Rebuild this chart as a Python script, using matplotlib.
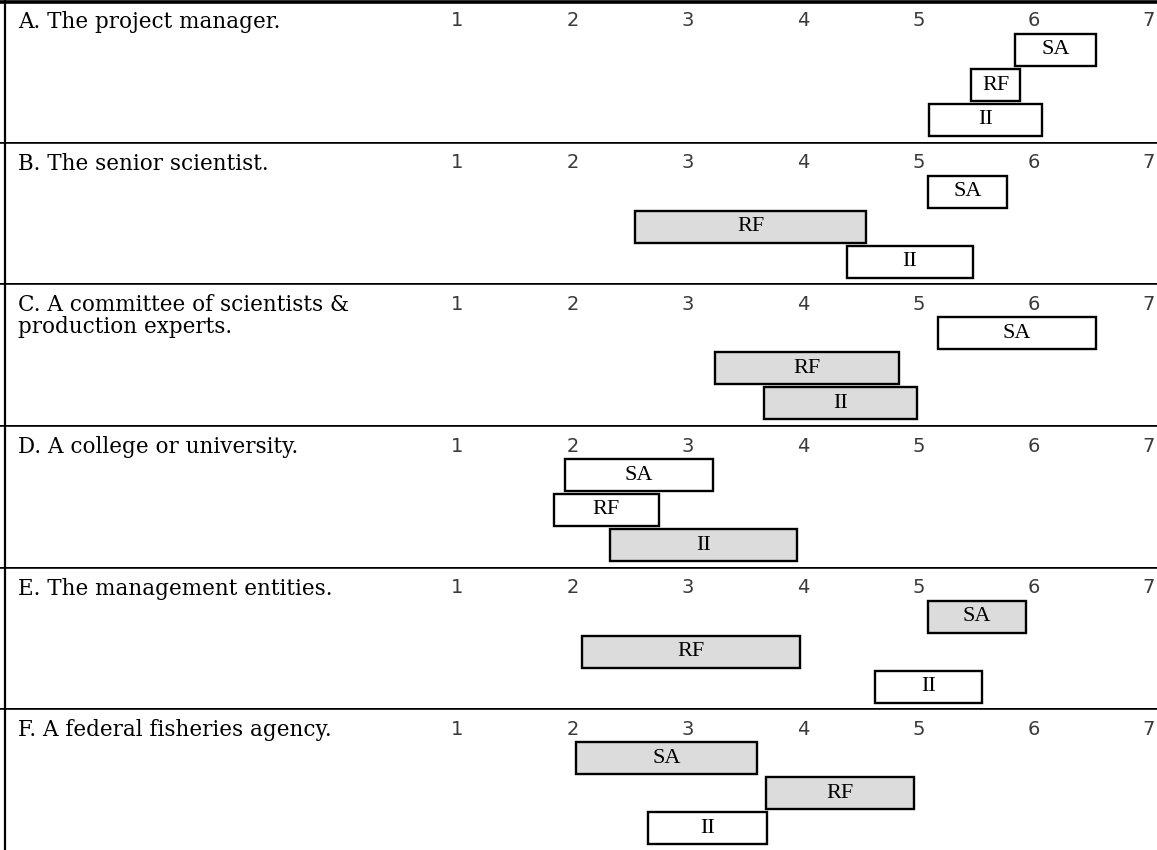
import matplotlib.pyplot as plt

# panel titles, top to bottom
PANELS = [
    "A. The project manager.",
    "B. The senior scientist.",
    "C. A committee of scientists &\nproduction experts.",
    "D. A college or university.",
    "E. The management entities.",
    "F. A federal fisheries agency.",
]
SCALE = [1, 2, 3, 4, 5, 6, 7]
ROWS = ["SA", "RF", "II"]

# left / right end of each box on the 1-7 scale (SA, RF, II per panel)
LEFT = [
    [5.84, 5.46, 5.09],
    [5.08, 2.54, 4.38],
    [5.17, 3.24, 3.66],
    [1.94, 1.84, 2.33],
    [5.08, 2.08, 4.62],
    [2.03, 3.68, 2.66],
]
RIGHT = [
    [6.54, 5.88, 6.07],
    [5.77, 4.55, 5.47],
    [6.54, 4.83, 4.99],
    [3.22, 2.75, 3.95],
    [5.93, 3.97, 5.55],
    [3.60, 4.96, 3.69],
]
# shaded (stippled) boxes
SHADED = [
    [False, False, False],
    [False, True, False],
    [False, True, True],
    [False, False, True],
    [True, True, False],
    [True, True, False],
]

W, H = 1157, 850
X1_PX, X7_PX = 457, 1149
UNIT = (X7_PX - X1_PX) / 6
XMIN = 1 - X1_PX / UNIT
XMAX = 7 + (W - X7_PX) / UNIT
PANEL_H = H / 6
ROW_Y = [50, 85, 120]
BOX_H = 32


def draw_panel(ax, i):
    ax.set_xlim(XMIN, XMAX)
    ax.set_ylim(PANEL_H, 0)
    ax.axis("off")
    ax.axhline(2 if i == 0 else 0, color="black", lw=2.6)
    ax.axvline(XMIN + 5 / UNIT, color="black", lw=1.6)
    ax.text(XMIN + 18 / UNIT, 11, PANELS[i], family="DejaVu Serif", fontsize=15.5,
            va="top", ha="left", linespacing=1.0)
    for v in SCALE:
        ax.text(v, 21, str(v), family="DejaVu Sans", fontsize=14, color="#3a3a3a",
                ha="center", va="center")
    for j, row in enumerate(ROWS):
        lo, hi = LEFT[i][j], RIGHT[i][j]
        ax.barh(ROW_Y[j], hi - lo, left=lo, height=BOX_H,
                color="#dcdcdc" if SHADED[i][j] else "white",
                edgecolor="black", linewidth=1.7)
        ax.text((lo + hi) / 2, ROW_Y[j], row, family="Liberation Serif",
                fontsize=16, ha="center", va="center")


def main() -> None:
    fig = plt.figure(figsize=(W / 100, H / 100), dpi=100)
    for i in range(len(PANELS)):
        ax = fig.add_axes([0, 1 - (i + 1) / 6, 1, 1 / 6])
        draw_panel(ax, i)
    fig.savefig("out.png", dpi=100)
    plt.close(fig)


if __name__ == "__main__":
    main()
